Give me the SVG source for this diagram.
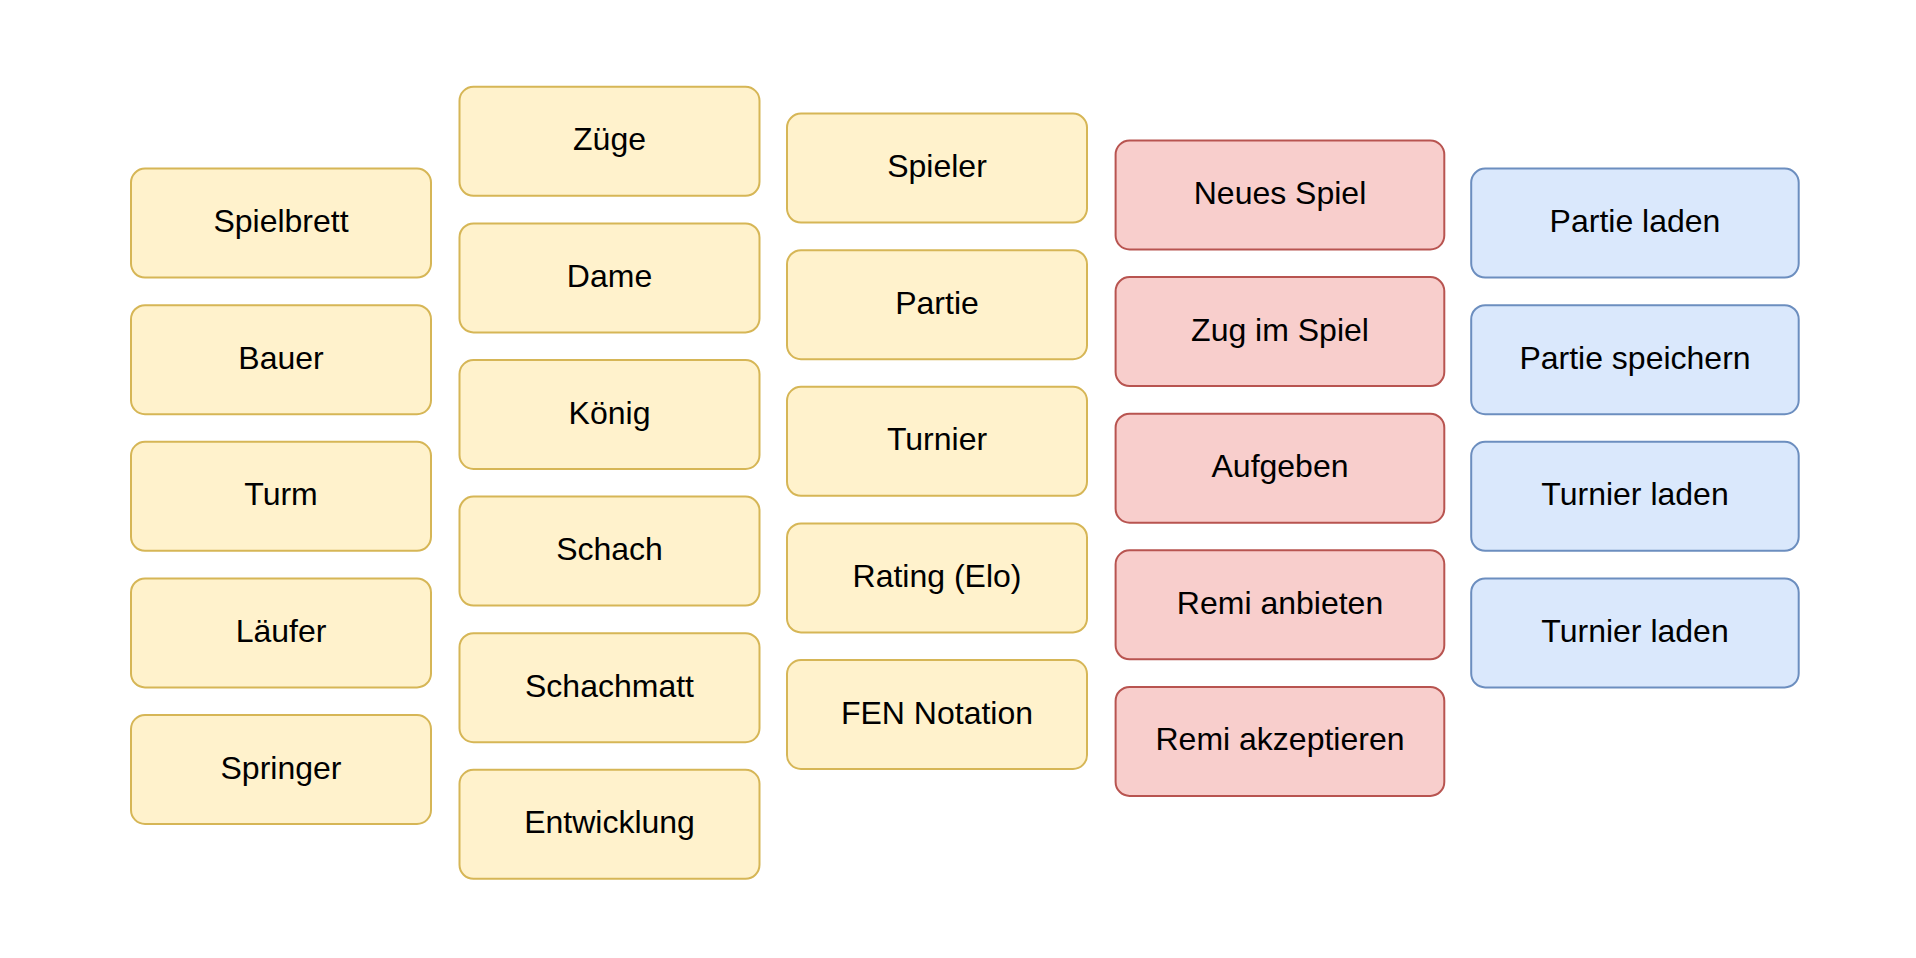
<svg xmlns="http://www.w3.org/2000/svg" width="1916" height="958" viewBox="0 0 1916 958">
<style>
rect{stroke-width:2}
.y rect{fill:#fff2cc;stroke:#d6b656}
.r rect{fill:#f8cecc;stroke:#b85450}
.b rect{fill:#dae8fc;stroke:#6c8ebf}
text{font-family:"Liberation Sans",Arial,sans-serif;font-size:32px;fill:#000;text-anchor:middle;dominant-baseline:central}
</style>
<rect width="1916" height="958" fill="#fff"/>
<g id="connectors"/>
<g class="y" transform="translate(0,0)">
<g id="n-spielbrett"><rect x="131" y="168.6" width="300" height="109" rx="14"/><text x="281" y="221">Spielbrett</text></g>
<g id="n-bauer"><rect x="131" y="305.2" width="300" height="109" rx="14"/><text x="281" y="357.7">Bauer</text></g>
<g id="n-turm"><rect x="131" y="441.8" width="300" height="109" rx="14"/><text x="281" y="494.3">Turm</text></g>
<g id="n-laeufer"><rect x="131" y="578.4" width="300" height="109" rx="14"/><text x="281" y="630.9">Läufer</text></g>
<g id="n-springer"><rect x="131" y="715" width="300" height="109" rx="14"/><text x="281" y="767.5">Springer</text></g>

<g id="n-zuege"><rect x="459.5" y="86.8" width="300" height="109" rx="14"/><text x="609.5" y="139.3">Züge</text></g>
<g id="n-dame"><rect x="459.5" y="223.4" width="300" height="109" rx="14"/><text x="609.5" y="275.9">Dame</text></g>
<g id="n-koenig"><rect x="459.5" y="360" width="300" height="109" rx="14"/><text x="609.5" y="412.5">König</text></g>
<g id="n-schach"><rect x="459.5" y="496.6" width="300" height="109" rx="14"/><text x="609.5" y="549.1">Schach</text></g>
<g id="n-schachmatt"><rect x="459.5" y="633.2" width="300" height="109" rx="14"/><text x="609.5" y="685.7">Schachmatt</text></g>
<g id="n-entwicklung"><rect x="459.5" y="769.8" width="300" height="109" rx="14"/><text x="609.5" y="822.3">Entwicklung</text></g>

<g id="n-spieler"><rect x="787" y="113.6" width="300" height="109" rx="14"/><text x="937" y="166.1">Spieler</text></g>
<g id="n-partie"><rect x="787" y="250.2" width="300" height="109" rx="14"/><text x="937" y="302.7">Partie</text></g>
<g id="n-turnier"><rect x="787" y="386.8" width="300" height="109" rx="14"/><text x="937" y="439.3">Turnier</text></g>
<g id="n-rating"><rect x="787" y="523.4" width="300" height="109" rx="14"/><text x="937" y="575.9">Rating (Elo)</text></g>
<g id="n-fen"><rect x="787" y="660" width="300" height="109" rx="14"/><text x="937" y="712.5">FEN Notation</text></g>
</g>
<g class="r">
<g id="n-neues-spiel"><rect x="1115.6" y="140.5" width="328.7" height="109" rx="14"/><text x="1280" y="193">Neues Spiel</text></g>
<g id="n-zug-im-spiel"><rect x="1115.6" y="277.1" width="328.7" height="109" rx="14"/><text x="1280" y="329.6">Zug im Spiel</text></g>
<g id="n-aufgeben"><rect x="1115.6" y="413.7" width="328.7" height="109" rx="14"/><text x="1280" y="466.2">Aufgeben</text></g>
<g id="n-remi-anbieten"><rect x="1115.6" y="550.3" width="328.7" height="109" rx="14"/><text x="1280" y="602.8">Remi anbieten</text></g>
<g id="n-remi-akzeptieren"><rect x="1115.6" y="686.9" width="328.7" height="109" rx="14"/><text x="1280" y="739.4">Remi akzeptieren</text></g>
</g>
<g class="b">
<g id="n-partie-laden"><rect x="1471.2" y="168.6" width="327.5" height="109" rx="14"/><text x="1635" y="221">Partie laden</text></g>
<g id="n-partie-speichern"><rect x="1471.2" y="305.2" width="327.5" height="109" rx="14"/><text x="1635" y="357.7">Partie speichern</text></g>
<g id="n-turnier-laden-1"><rect x="1471.2" y="441.8" width="327.5" height="109" rx="14"/><text x="1635" y="494.3">Turnier laden</text></g>
<g id="n-turnier-laden-2"><rect x="1471.2" y="578.4" width="327.5" height="109" rx="14"/><text x="1635" y="630.9">Turnier laden</text></g>
</g>
</svg>
